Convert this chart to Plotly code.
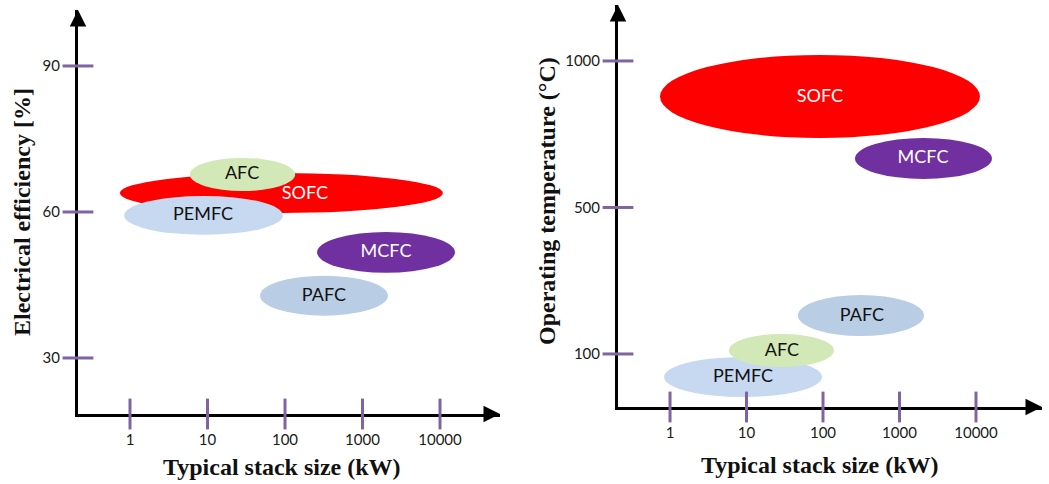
import plotly.graph_objects as go

# ---------------- data ----------------
cells = ["SOFC", "PEMFC", "AFC", "MCFC", "PAFC"]
fill_colors = ["#ff0000", "#c6d9f1", "#d2e8b6", "#7030a0", "#b9cde5"]
text_colors = ["#ffffff", "#111111", "#111111", "#ffffff", "#111111"]

size_ticks = [1, 10, 100, 1000, 10000]
size_ticktext = ["1", "10", "100", "1000", "10000"]

# Left panel: electrical efficiency [%] vs typical stack size (kW)
eff_size_lo = [0.74, 0.84, 5.9, 259, 47.6]
eff_size_hi = [10900, 94, 135, 15600, 2130]
eff_lo = [59.8, 55.3, 64.3, 47.5, 38.7]
eff_hi = [68.0, 63.3, 71.1, 55.9, 46.9]
eff_label_size = [181, 8.75, 27.9, 2010, 318]
eff_label_val = [63.5, 59.2, 67.6, 51.6, 42.7]
eff_ticks = [30, 60, 90]

# Right panel: operating temperature (°C) vs typical stack size (kW)
# temperature axis is not proportional: ticks 100 / 500 / 1000 are evenly spaced,
# values below are positions on that axis (0 = 100 °C, 1 = 500 °C, 2 = 1000 °C)
temp_tickpos = [0, 1, 2]
temp_ticktext = ["100", "500", "1000"]
temp_size_lo = [0.74, 0.836, 5.9, 262, 47.1]
temp_size_hi = [11270, 97, 139, 16180, 2090]
temp_pos_lo = [1.474, -0.294, -0.089, 1.195, 0.123]
temp_pos_hi = [2.041, -0.020, 0.137, 1.474, 0.403]
temp_label_size = [91, 9.0, 29, 2030, 323]
temp_label_pos = [1.754, -0.164, 0.020, 1.331, 0.259]

# ---------------- figure ----------------
W, H = 1049, 484
TICK_COLOR = "#8064a2"
TICK_FONT = dict(family="Lato, Open Sans, sans-serif", size=15, color="#1a1a1a")
LABEL_FONT_FAMILY = "Lato, Open Sans, sans-serif"
TITLE_FONT = dict(family="Liberation Serif, Times New Roman, serif", size=24, color="#111111")

fig = go.Figure()

panels = [
    dict(xa="x", ya="y", xlo=eff_size_lo, xhi=eff_size_hi, ylo=eff_lo, yhi=eff_hi,
         lx=eff_label_size, ly=eff_label_val, yt=eff_ticks, yrange=[18.49, 101.5],
         xrange=[-0.671, 4.774]),
    dict(xa="x2", ya="y2", xlo=temp_size_lo, xhi=temp_size_hi, ylo=temp_pos_lo, yhi=temp_pos_hi,
         lx=temp_label_size, ly=temp_label_pos, yt=temp_tickpos, yrange=[-0.362, 2.382],
         xrange=[-0.680, 4.863]),
]

shapes = []
for p in panels:
    for i, c in enumerate(cells):
        shapes.append(dict(type="circle", xref=p["xa"], yref=p["ya"],
                           x0=p["xlo"][i], x1=p["xhi"][i], y0=p["ylo"][i], y1=p["yhi"][i],
                           fillcolor=fill_colors[i], line=dict(width=0), layer="below"))
    # labels
    fig.add_trace(go.Scatter(x=p["lx"], y=p["ly"], mode="text", text=cells,
                             textfont=dict(family=LABEL_FONT_FAMILY, size=18, color=text_colors),
                             xaxis=p["xa"], yaxis=p["ya"], hoverinfo="skip", showlegend=False))
    # purple tick marks crossing the axes
    fig.add_trace(go.Scatter(x=size_ticks, y=[p["yrange"][0]] * len(size_ticks), mode="markers",
                             marker=dict(symbol="line-ns", size=22,
                                         line=dict(width=3, color=TICK_COLOR)),
                             cliponaxis=False, xaxis=p["xa"], yaxis=p["ya"],
                             hoverinfo="skip", showlegend=False))
    fig.add_trace(go.Scatter(x=[10 ** p["xrange"][0]] * len(p["yt"]), y=p["yt"], mode="markers",
                             marker=dict(symbol="line-ew", size=22,
                                         line=dict(width=3, color=TICK_COLOR)),
                             cliponaxis=False, xaxis=p["xa"], yaxis=p["ya"],
                             hoverinfo="skip", showlegend=False))

common_x = dict(type="log", tickvals=size_ticks, ticktext=size_ticktext, ticks="",
                showgrid=False, zeroline=False, showline=True, linewidth=3, linecolor="black",
                tickfont=TICK_FONT, ticklabelstandoff=10, layer="below traces", fixedrange=True)
common_y = dict(ticks="", showgrid=False, zeroline=False, showline=True, linewidth=3,
                linecolor="black", tickfont=TICK_FONT, ticklabelstandoff=12,
                layer="below traces", fixedrange=True)

fig.update_layout(
    width=W, height=H, margin=dict(l=0, r=0, t=0, b=0),
    paper_bgcolor="white", plot_bgcolor="rgba(0,0,0,0)",
    showlegend=False, shapes=shapes,
    xaxis=dict(common_x, domain=[78 / W, 500 / W], range=panels[0]["xrange"], anchor="y"),
    yaxis=dict(common_y, domain=[1 - 414 / H, 1 - 10 / H], range=panels[0]["yrange"],
               tickvals=eff_ticks, ticktext=[str(v) for v in eff_ticks], anchor="x"),
    xaxis2=dict(common_x, domain=[618 / W, 1042 / W], range=panels[1]["xrange"], anchor="y2"),
    yaxis2=dict(common_y, domain=[1 - 407 / H, 1 - 5 / H], range=panels[1]["yrange"],
                tickvals=temp_tickpos, ticktext=temp_ticktext, anchor="x2"),
)

annotations = []
# arrow heads at axis ends
for (xtip, ytip, ax, ay) in [(500 / W, 1 - 414 / H, -14, 0), (78 / W, 1 - 10 / H, 0, 14),
                             (1042 / W, 1 - 407 / H, -14, 0), (618 / W, 1 - 5 / H, 0, 14)]:
    annotations.append(dict(xref="paper", yref="paper", x=xtip, y=ytip, ax=ax, ay=ay,
                            text="", showarrow=True, arrowhead=2, arrowsize=1.1,
                            arrowwidth=3, arrowcolor="black", standoff=0))
# axis titles
annotations += [
    dict(xref="paper", yref="paper", x=282 / W, y=1 - 467 / H, text="<b>Typical stack size (kW)</b>",
         showarrow=False, font=TITLE_FONT, xanchor="center", yanchor="middle"),
    dict(xref="paper", yref="paper", x=22 / W, y=1 - 212 / H, text="<b>Electrical efficiency [%]</b>",
         showarrow=False, font=TITLE_FONT, textangle=-90, xanchor="center", yanchor="middle"),
    dict(xref="paper", yref="paper", x=820 / W, y=1 - 465 / H, text="<b>Typical stack size (kW)</b>",
         showarrow=False, font=TITLE_FONT, xanchor="center", yanchor="middle"),
    dict(xref="paper", yref="paper", x=547 / W, y=1 - 201 / H, text="<b>Operating temperature (°C)</b>",
         showarrow=False, font=TITLE_FONT, textangle=-90, xanchor="center", yanchor="middle"),
]
fig.update_layout(annotations=annotations)

fig.write_html("out.html", config={"displayModeBar": False},
               post_script="document.body.style.margin='0';document.body.style.overflow='hidden';")
